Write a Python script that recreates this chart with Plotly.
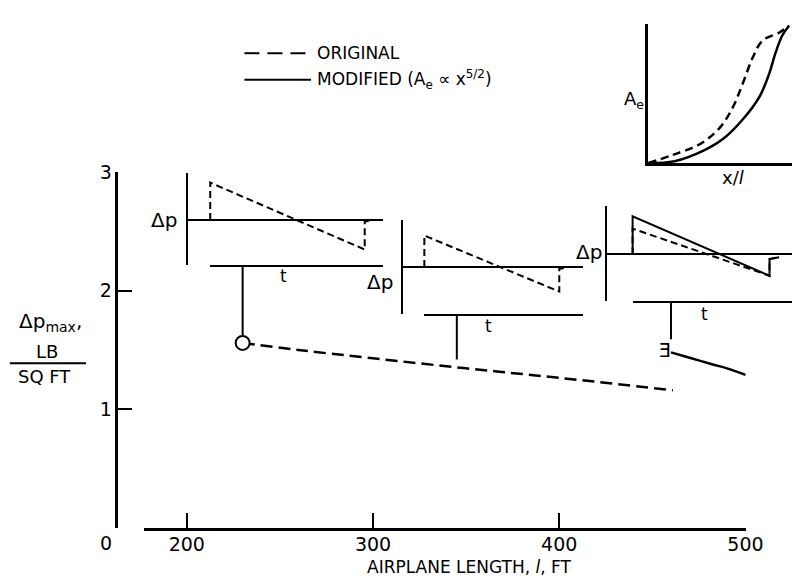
import plotly.graph_objects as go

W, H = 810, 585


def px(x):
    return x / W


def py(y):
    return 1 - y / H


# ---------------- data ----------------
TICK_LENGTHS = [200, 300, 400, 500]
TICK_DP = [0, 1, 2, 3]
TICK_DP_TEXT = ["", "1", "2", "3"]

# Delta p_max vs airplane length
ORIG_LENGTH = [230, 260, 300, 350, 400, 461]
ORIG_DPMAX = [1.56, 1.50, 1.43, 1.345, 1.265, 1.16]
MOD_LENGTH = [460, 470, 482, 490, 500]
MOD_DPMAX = [1.48, 1.435, 1.38, 1.345, 1.29]

# leaders from the curve to each pressure signature
LEADER_LENGTH = [230, 345, 460]
LEADER_LOW = [1.62, 1.42, 1.59]
LEADER_HIGH = [2.21, 1.80, 1.91]

# pressure signatures (normalised t, normalised delta p)
SIG1_T = [0, 0, 1, 1, 1.04]
SIG1_DP_ORIG = [0, 0.81, -0.64, -0.04, 0.0]
SIG2_T = [0, 0, 1, 1, 1.07]
SIG2_DP_ORIG = [0, 0.67, -0.52, -0.04, 0.0]
SIG3_T_MOD = [0, 0, 1, 1, 1.07]
SIG3_DP_MOD = [0, 0.80, -0.45, -0.10, -0.06]
SIG3_T_ORIG = [0, 0, 0.86, 1, 1, 1.07]
SIG3_DP_ORIG = [0, 0.54, -0.31, -0.45, -0.10, -0.06]

# equivalent area distributions
AE_X_ORIG = [0, 0.166, 0.372, 0.510, 0.600, 0.669, 0.738, 0.807, 0.924, 0.993]
AE_ORIG = [0, 0.057, 0.143, 0.264, 0.414, 0.586, 0.771, 0.893, 0.950, 1.0]
AE_X_MOD = [0, 0.186, 0.393, 0.531, 0.669, 0.786, 0.855, 0.897, 0.945, 0.993]
AE_MOD = [0, 0.014, 0.093, 0.179, 0.321, 0.486, 0.657, 0.800, 0.929, 1.0]

# ---------------- layout geometry (pixels) ----------------
SIG_BOXES = [
    dict(left=192, right=392, top=165, bottom=259, zero=213, t0=215, t1=373, scale=47),
    dict(left=412, right=596, top=213, bottom=309, zero=261, t0=434, t1=572, scale=48),
    dict(left=621, right=810, top=199, bottom=296, zero=248, t0=647, t1=787, scale=48.5),
]

FONT = "DejaVu Sans"
BLACK = "black"
DASH_MAIN = "12px,6px"
DASH_SIG = "7px,4px"

fig = go.Figure()
layout = {}

# ---- main axes ----
layout["xaxis"] = dict(
    domain=[px(147), px(763)], range=[176.9, 500.3], anchor="y",
    showline=True, linewidth=2.5, linecolor=BLACK,
    ticks="inside", ticklen=15, tickwidth=2, tickcolor=BLACK,
    tickvals=TICK_LENGTHS, tickfont=dict(size=19, family=FONT, color=BLACK),
    ticklabelstandoff=-3,
    showgrid=False, zeroline=False,
)
layout["yaxis"] = dict(
    domain=[py(527), py(164)], range=[-0.004, 3.004], anchor="free", position=px(119),
    showline=True, linewidth=2.5, linecolor=BLACK,
    ticks="inside", ticklen=14, tickwidth=2, tickcolor=BLACK,
    tickvals=TICK_DP, ticktext=TICK_DP_TEXT,
    tickfont=dict(size=19, family=FONT, color=BLACK),
    showgrid=False, zeroline=False,
)

fig.add_trace(go.Scatter(x=ORIG_LENGTH, y=ORIG_DPMAX, mode="lines",
                         line=dict(color=BLACK, width=2.5, dash=DASH_MAIN, shape="spline"),
                         xaxis="x", yaxis="y"))
fig.add_trace(go.Scatter(x=MOD_LENGTH, y=MOD_DPMAX, mode="lines",
                         line=dict(color=BLACK, width=2.5, shape="spline"),
                         xaxis="x", yaxis="y"))
lx, ly = [], []
for L, lo, hi in zip(LEADER_LENGTH, LEADER_LOW, LEADER_HIGH):
    lx += [L, L, None]
    ly += [lo, hi, None]
fig.add_trace(go.Scatter(x=lx, y=ly, mode="lines", line=dict(color=BLACK, width=2),
                         xaxis="x", yaxis="y"))
fig.add_trace(go.Scatter(x=ORIG_LENGTH[:1], y=ORIG_DPMAX[:1], mode="markers",
                         marker=dict(symbol="circle", size=14, color="white",
                                     line=dict(color=BLACK, width=2)),
                         xaxis="x", yaxis="y"))
fig.add_trace(go.Scatter(x=MOD_LENGTH[:1], y=MOD_DPMAX[:1], mode="text", text=["Ǝ"],
                         textposition="middle left",
                         textfont=dict(size=19, family=FONT, color=BLACK),
                         xaxis="x", yaxis="y"))

# ---- signature insets ----
SIG_DATA = [
    [(SIG1_T, SIG1_DP_ORIG, DASH_SIG)],
    [(SIG2_T, SIG2_DP_ORIG, DASH_SIG)],
    [(SIG3_T_ORIG, SIG3_DP_ORIG, DASH_SIG), (SIG3_T_MOD, SIG3_DP_MOD, "solid")],
]
for k, (box, series) in enumerate(zip(SIG_BOXES, SIG_DATA)):
    xa_n, xt_n, ya_n = 2 + 2 * k, 3 + 2 * k, 2 + k
    span = box["t1"] - box["t0"]
    t_lo = (box["left"] - box["t0"]) / span
    t_hi = (box["right"] - box["t0"]) / span
    s = box["scale"]
    dp_lo = (box["zero"] - box["bottom"]) / s
    dp_hi = (box["zero"] - box["top"]) / s
    eps = (dp_hi - dp_lo) * 0.002
    layout[f"xaxis{xa_n}"] = dict(
        domain=[px(box["left"]), px(box["right"])], range=[t_lo, t_hi], anchor=f"y{ya_n}",
        showline=False, showticklabels=False, ticks="", showgrid=False, zeroline=False)
    layout[f"xaxis{xt_n}"] = dict(
        domain=[px(box["t0"]), px(box["right"])], range=[0, t_hi], anchor=f"y{ya_n}",
        showline=True, linewidth=2, linecolor=BLACK,
        ticks="inside", ticklen=6, tickwidth=2, tickcolor=BLACK,
        tickvals=[t_hi * 0.001], showticklabels=False, showgrid=False, zeroline=False)
    layout[f"yaxis{ya_n}"] = dict(
        domain=[py(box["bottom"]), py(box["top"])], range=[dp_lo, dp_hi], anchor=f"x{xa_n}",
        showline=True, linewidth=2, linecolor=BLACK,
        ticks="inside", ticklen=6, tickwidth=2, tickcolor=BLACK,
        tickvals=[dp_lo + eps, dp_hi - eps], showticklabels=False, showgrid=False,
        zeroline=True, zerolinewidth=2, zerolinecolor=BLACK)
    for t, dp, dash in series:
        fig.add_trace(go.Scatter(x=t, y=dp, mode="lines",
                                 line=dict(color=BLACK, width=2, dash=dash),
                                 xaxis=f"x{xa_n}", yaxis=f"y{ya_n}"))
    fig.add_trace(go.Scatter(x=[None], y=[None], mode="lines",
                             xaxis=f"x{xt_n}", yaxis=f"y{ya_n}"))

# ---- area distribution inset ----
layout["xaxis8"] = dict(
    domain=[px(663), 1.0], range=[0, 147 / 145], anchor="y5",
    showline=True, linewidth=2.5, linecolor=BLACK, ticks="", showticklabels=False,
    showgrid=False, zeroline=False)
layout["yaxis5"] = dict(
    domain=[py(155), py(13)], range=[0, 142 / 140], anchor="x8",
    showline=True, linewidth=2.5, linecolor=BLACK,
    ticks="inside", ticklen=9, tickwidth=2, tickcolor=BLACK,
    tickvals=[142 / 140 * 0.998], showticklabels=False, showgrid=False, zeroline=False)
fig.add_trace(go.Scatter(x=AE_X_ORIG, y=AE_ORIG, mode="lines",
                         line=dict(color=BLACK, width=2.5, dash="8px,5px", shape="spline"),
                         xaxis="x8", yaxis="y5"))
fig.add_trace(go.Scatter(x=AE_X_MOD, y=AE_MOD, mode="lines",
                         line=dict(color=BLACK, width=2.5, shape="spline"),
                         xaxis="x8", yaxis="y5"))

# ---- text ----
def ann(text, x, y, size=18, xanchor="center"):
    return dict(text=text, x=px(x), y=py(y), xref="paper", yref="paper",
                xanchor=xanchor, yanchor="middle", showarrow=False,
                font=dict(size=size, family=FONT, color=BLACK))


annotations = [
    ann("0", 108, 542, 19),
    ann("AIRPLANE LENGTH, <i>l</i>, FT", 480, 567, 17),
    ann("Δp<sub>max</sub>,", 52, 317, 20),
    ann("LB", 48, 347, 18),
    ann("SQ FT", 46, 372, 18),
    ann("Δp", 168, 213, 20),
    ann("Δp", 389, 276, 20),
    ann("Δp", 602, 246, 20),
    ann("t", 290, 270, 17),
    ann("t", 500, 321, 17),
    ann("t", 720, 309, 17),
    ann("A<sub>e</sub>", 648, 91, 18),
    ann("x/<i>l</i>", 750, 170, 18),
    ann("ORIGINAL", 322, 43, 17, "left"),
    ann("MODIFIED (A<sub>e</sub> ∝ x<sup>5/2</sup>)", 322, 70, 17, "left"),
]

shapes = [
    dict(type="line", xref="paper", yref="paper", x0=px(250), x1=px(318), y0=py(43), y1=py(43),
         line=dict(color=BLACK, width=2, dash="15px,8px")),
    dict(type="line", xref="paper", yref="paper", x0=px(250), x1=px(318), y0=py(70), y1=py(70),
         line=dict(color=BLACK, width=2)),
    dict(type="line", xref="paper", yref="paper", x0=px(10), x1=px(88), y0=py(359), y1=py(359),
         line=dict(color=BLACK, width=2)),
]

fig.update_layout(
    width=W, height=H, margin=dict(l=0, r=0, t=0, b=0),
    paper_bgcolor="white", plot_bgcolor="rgba(0,0,0,0)", showlegend=False,
    font=dict(family=FONT, color=BLACK, size=18),
    annotations=annotations, shapes=shapes, **layout,
)

fig.write_html(
    "out.html",
    config={"displayModeBar": False},
    post_script="document.body.style.margin='0';document.body.style.padding='0';"
                "document.documentElement.style.overflow='hidden';",
)
